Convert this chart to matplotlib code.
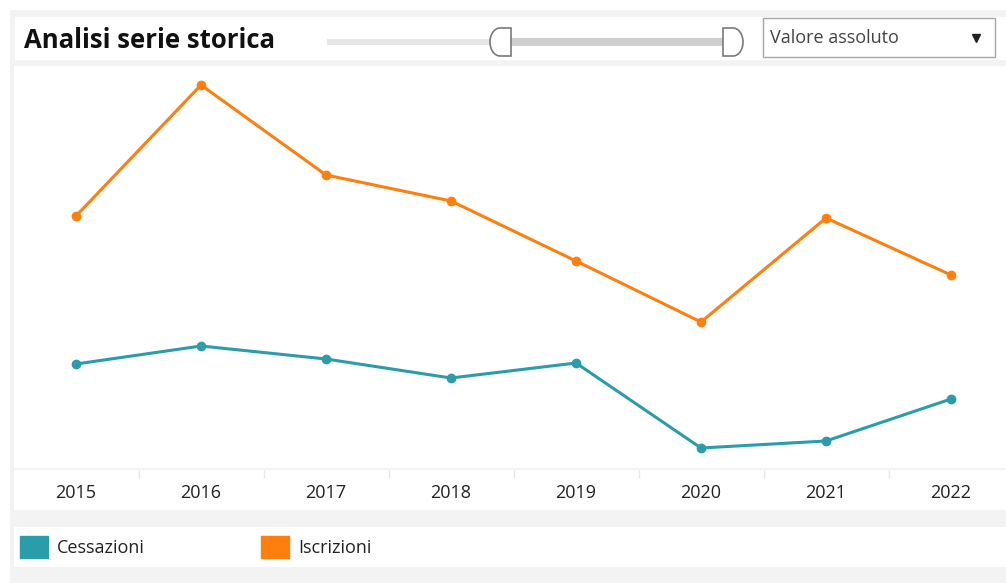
import numpy as np
import matplotlib.pyplot as plt
from matplotlib.patches import Rectangle, Polygon, Patch

# data (no y axis in the reference, values read relative to the baseline)
years = ['2015', '2016', '2017', '2018', '2019', '2020', '2021', '2022']
iscrizioni = [2520, 3830, 2930, 2670, 2070, 1460, 2500, 1930]
cessazioni = [1040, 1220, 1090, 900, 1050, 200, 270, 690]
series_names = ['Cessazioni', 'Iscrizioni']
title = 'Analisi serie storica'
dropdown_text = 'Valore assoluto'

TEAL = '#2b9ca9'
ORANGE = '#ff7f0e'
GRAY_BG = '#f3f3f3'

plt.rcParams['font.family'] = ['Open Sans', 'DejaVu Sans']

W, H = 1006, 583
fig = plt.figure(figsize=(W / 100, H / 100), dpi=100, facecolor='white')

# background layer in pixel coordinates
bg = fig.add_axes([0, 0, 1, 1], zorder=0)
bg.set_xlim(0, W)
bg.set_ylim(H, 0)
bg.axis('off')
bg.add_patch(Rectangle((10, 10), W - 10, H - 10, color=GRAY_BG, lw=0))
for (x0, y0, x1, y1) in [(15, 17, W, 60), (14, 66, W, 468),
                         (14, 470, W, 510), (14, 527, W, 567)]:
    bg.add_patch(Rectangle((x0, y0), x1 - x0, y1 - y0, color='white', lw=0))

bg.text(24, 40, title, fontsize=18.5, fontweight='bold', color='#111111',
        va='center', ha='left')

# range slider
bg.add_patch(Rectangle((327, 39), 175, 6, color='#e6e6e6', lw=0))
bg.add_patch(Rectangle((500, 38), 232, 8, color='#cfcfcf', lw=0))
t = np.linspace(np.pi / 2, 3 * np.pi / 2, 30)
left_h = np.column_stack([500 + 10 * np.cos(t), 42 - 14 * np.sin(t)])
left_h = np.vstack([[511, 28], left_h, [511, 56]])
bg.add_patch(Polygon(left_h, closed=True, fc='white', ec='#7a7a7a', lw=1.2))
right_h = np.column_stack([733 - 10 * np.cos(t), 42 - 14 * np.sin(t)])
right_h = np.vstack([[723, 28], right_h, [723, 56]])
bg.add_patch(Polygon(right_h, closed=True, fc='white', ec='#7a7a7a', lw=1.2))

# dropdown
bg.add_patch(Rectangle((763, 18), 232, 39, fc='white', ec='#a6a6a6', lw=1))
bg.text(770, 38, dropdown_text, fontsize=13, color='#444444', va='center')
bg.plot([976], [38], marker='v', markersize=6, color='#222222')

# main chart
ax = fig.add_axes([13.5 / W, (H - 468) / H, (W - 13.5) / W, (468 - 66) / H],
                  zorder=2)
ax.set_facecolor('none')
x = np.arange(len(years))
ax.plot(x, cessazioni, color=TEAL, lw=2.2, marker='o', markersize=6)
ax.plot(x, iscrizioni, color=ORANGE, lw=2.2, marker='o', markersize=6)
ax.axis('off')

# category band
band = fig.add_axes([13.5 / W, (H - 510) / H, (W - 13.5) / W, 40 / H],
                    zorder=2, sharex=ax)
band.set_facecolor('none')
for s in band.spines.values():
    s.set_visible(False)
band.set_yticks([])
band.set_xticks(x[:-1] + 0.5, minor=True)
band.set_xticks([])
band.tick_params(axis='x', which='minor', top=True, bottom=False,
                 direction='in', length=6, color='#e6e6e6', width=1)
for i, lab in enumerate(years):
    band.text(i, 0.42, lab, ha='center', va='center', fontsize=13,
              color='#222222')

ax.set_xlim(-0.5, 7.44)
ax.set_ylim(0, 4020)
band.set_ylim(0, 1)

# legend
handles = [Patch(color=TEAL), Patch(color=ORANGE)]
fig.legend(handles, series_names, loc='center left',
           bbox_to_anchor=(20 / W, 1 - 547 / H), ncol=2, frameon=False,
           fontsize=13, handlelength=1.55, handleheight=1.45,
           handletextpad=0.5, columnspacing=6.45, borderpad=0,
           borderaxespad=0, labelcolor='#222222')

fig.savefig('out.png', dpi=100)
